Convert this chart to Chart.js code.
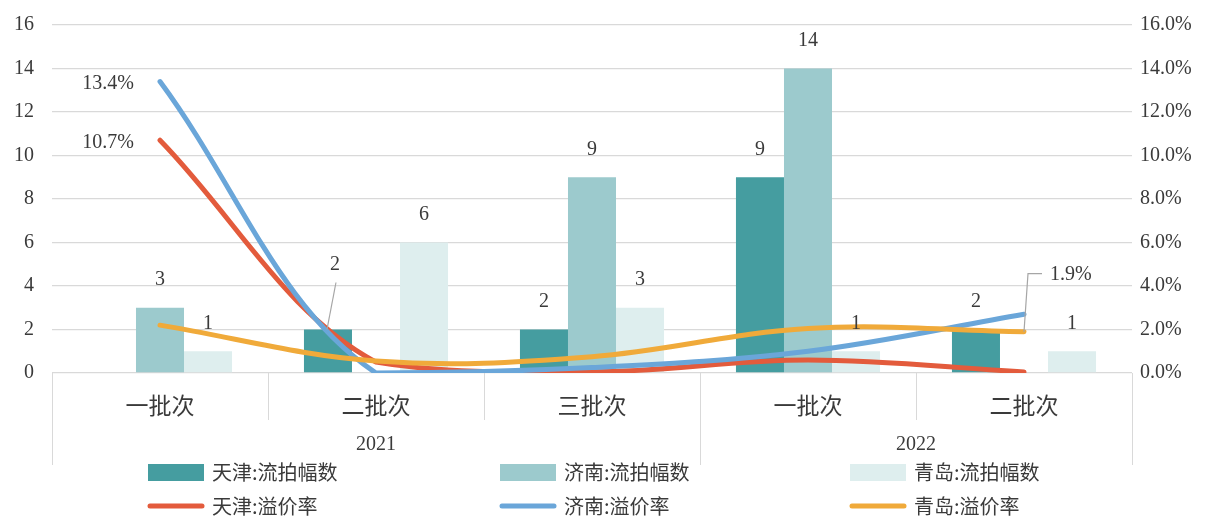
<!DOCTYPE html>
<html>
<head>
<meta charset="utf-8">
<title>流拍幅数与溢价率</title>
<script src="https://cdn.jsdelivr.net/npm/chart.js@4.4.0/dist/chart.umd.min.js"></script>
<style>
  html, body { margin: 0; padding: 0; background: #fff; }
  #wrap { position: relative; width: 1209px; height: 517px; }
</style>
</head>
<body>
<div id="wrap"><canvas id="auctionChart"></canvas></div>
<script>
// categories (batch + year)
var batches = ["一批次", "二批次", "三批次", "一批次", "二批次"];
var years = ["2021", "2021", "2021", "2022", "2022"];

// unsold parcels per batch
var tianjinCount = [null, 2, 2, 9, 2];
var jinanCount = [3, null, 9, 14, null];
var qingdaoCount = [1, 6, 3, 1, 1];

// premium rate, %
var tianjinPremium = [10.7, 0.5, 0.05, 0.6, 0.05];
var jinanPremium = [13.4, 0, 0.25, 1.0, 2.7];
var qingdaoPremium = [2.2, 0.55, 0.75, 2.05, 1.9];

// axis ticks
var countTicks = [0, 2, 4, 6, 8, 10, 12, 14, 16];
var premiumTicks = [0, 2, 4, 6, 8, 10, 12, 14, 16];

var FONT = "'Liberation Serif', 'Noto Sans CJK SC', serif";
var TEXT = '#3a3a3a';
var GRID = '#d9d9d9';

// which line points carry a value label: [dataset index, point index, placement]
var lineLabels = [[4, 0, 'left'], [3, 0, 'left'], [5, 4, 'callout']];

var annotate = {
  id: 'annotate',
  afterDatasetsDraw: function (chart) {
    var ctx = chart.ctx;
    ctx.save();
    ctx.font = '20px ' + FONT;
    ctx.fillStyle = TEXT;
    ctx.strokeStyle = '#a6a6a6';
    ctx.lineWidth = 1.2;
    ctx.textBaseline = 'middle';

    // bar values
    [0, 1, 2].forEach(function (di) {
      var meta = chart.getDatasetMeta(di);
      var vals = chart.data.datasets[di].data;
      meta.data.forEach(function (bar, j) {
        if (vals[j] == null) return;
        ctx.textAlign = 'center';
        if (di === 0 && j === 1) {
          // label pulled up above the crossing lines, with a leader
          ctx.beginPath();
          ctx.moveTo(bar.x + 8, bar.y - 47);
          ctx.lineTo(bar.x - 1, bar.y);
          ctx.stroke();
          ctx.fillText(String(vals[j]), bar.x + 7, bar.y - 65);
        } else {
          ctx.fillText(String(vals[j]), bar.x, bar.y - 28);
        }
      });
    });

    // premium labels
    lineLabels.forEach(function (l) {
      var pt = chart.getDatasetMeta(l[0]).data[l[1]];
      var txt = chart.data.datasets[l[0]].data[l[1]].toFixed(1) + '%';
      if (l[2] === 'left') {
        ctx.textAlign = 'right';
        ctx.fillText(txt, pt.x - 26, pt.y + 2);
      } else {
        ctx.beginPath();
        ctx.moveTo(pt.x + 18, pt.y - 58);
        ctx.lineTo(pt.x + 4, pt.y - 58);
        ctx.lineTo(pt.x, pt.y);
        ctx.stroke();
        ctx.textAlign = 'left';
        ctx.fillText(txt, pt.x + 26, pt.y - 57);
      }
    });
    ctx.restore();
  },
  afterDraw: function (chart) {
    var ctx = chart.ctx;
    var x = chart.scales.x;
    var n = batches.length;
    var w = (x.right - x.left) / n;
    var base = chart.chartArea.bottom;
    ctx.save();

    // category / year separators
    ctx.strokeStyle = GRID;
    ctx.lineWidth = 1;
    for (var k = 0; k <= n; k++) {
      var px = Math.round(x.left + k * w) + 0.5;
      var long = k === 0 || k === n || years[k] !== years[k - 1];
      ctx.beginPath();
      ctx.moveTo(px, base);
      ctx.lineTo(px, base + (long ? 92 : 47));
      ctx.stroke();
    }

    // year labels
    ctx.font = '20px ' + FONT;
    ctx.fillStyle = TEXT;
    ctx.textAlign = 'center';
    ctx.textBaseline = 'middle';
    var start = 0;
    for (var i = 1; i <= n; i++) {
      if (i === n || years[i] !== years[start]) {
        var cx = (x.getPixelForValue(start) + x.getPixelForValue(i - 1)) / 2;
        ctx.fillText(years[start], cx, base + 72);
        start = i;
      }
    }

    // legend, three columns by two rows
    var colX = [148, 500, 850];
    var rowY = [472, 506];
    ctx.font = "20px 'Noto Sans CJK SC', sans-serif";
    ctx.textAlign = 'left';
    chart.data.datasets.forEach(function (ds, di) {
      var lx = colX[di % 3];
      var ly = rowY[di < 3 ? 0 : 1];
      if (ds.type === 'bar') {
        ctx.fillStyle = ds.backgroundColor;
        ctx.fillRect(lx, ly - 8, 56, 17);
      } else {
        ctx.strokeStyle = ds.borderColor;
        ctx.lineWidth = 5;
        ctx.lineCap = 'round';
        ctx.beginPath();
        ctx.moveTo(lx + 2, ly);
        ctx.lineTo(lx + 54, ly);
        ctx.stroke();
      }
      ctx.fillStyle = TEXT;
      ctx.fillText(ds.label, lx + 64, ly);
    });
    ctx.restore();
  }
};

function lineSet(label, data, color, order) {
  return {
    type: 'line', label: label, data: data, yAxisID: 'y1',
    borderColor: color, backgroundColor: color, borderWidth: 5,
    borderCapStyle: 'round', pointRadius: 0, tension: 0.36, order: order
  };
}

function barSet(label, data, color) {
  return {
    type: 'bar', label: label, data: data, yAxisID: 'y',
    backgroundColor: color, borderWidth: 0, order: 10,
    categoryPercentage: 0.667, barPercentage: 1.0
  };
}

// fixed axis widths; drop the label overhang so the plot top is set by layout padding
function fixWidth(width) {
  return function (s) {
    s.width = width;
    s.paddingTop = 0;
    s.paddingBottom = 0;
  };
}

new Chart(document.getElementById('auctionChart'), {
  data: {
    labels: batches,
    datasets: [
      barSet('天津:流拍幅数', tianjinCount, '#459da0'),
      barSet('济南:流拍幅数', jinanCount, '#9ccacd'),
      barSet('青岛:流拍幅数', qingdaoCount, '#deeeee'),
      lineSet('天津:溢价率', tianjinPremium, '#e35b3c', 3),
      lineSet('济南:溢价率', jinanPremium, '#6aa6d9', 2),
      lineSet('青岛:溢价率', qingdaoPremium, '#f0aa3a', 1)
    ]
  },
  plugins: [annotate],
  options: {
    responsive: true,
    maintainAspectRatio: false,
    animation: false,
    layout: { padding: { top: 25, left: 0, right: 0, bottom: 0 } },
    plugins: { legend: { display: false }, tooltip: { enabled: false } },
    scales: {
      x: {
        grid: { display: false },
        border: { display: false },
        ticks: { color: TEXT, font: { size: 23, family: FONT }, padding: 13, maxRotation: 0 },
        afterFit: function (s) { s.height = 144; }
      },
      y: {
        position: 'left',
        min: 0, max: 16,
        afterBuildTicks: function (s) { s.ticks = countTicks.map(function (v) { return { value: v }; }); },
        grid: { color: GRID, lineWidth: 1.3, drawTicks: false },
        border: { display: false },
        ticks: { color: TEXT, font: { size: 20, family: FONT }, padding: 18 },
        afterFit: fixWidth(52)
      },
      y1: {
        position: 'right',
        min: 0, max: 16,
        afterBuildTicks: function (s) { s.ticks = premiumTicks.map(function (v) { return { value: v }; }); },
        grid: { drawOnChartArea: false, drawTicks: false },
        border: { display: false },
        ticks: {
          color: TEXT, font: { size: 20, family: FONT }, padding: 8,
          callback: function (v) { return v.toFixed(1) + '%'; }
        },
        afterFit: fixWidth(77)
      }
    }
  }
});
</script>
</body>
</html>
